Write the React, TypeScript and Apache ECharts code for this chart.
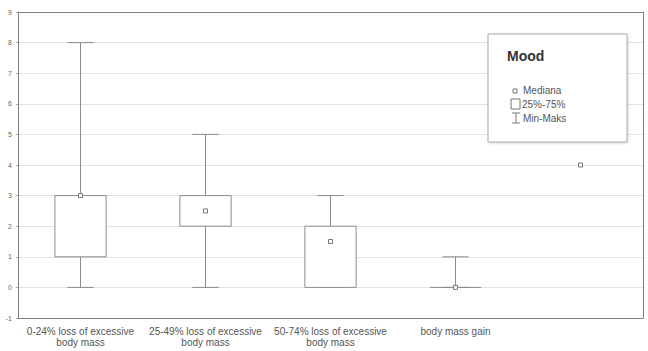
import React, { useEffect, useRef } from "react";
import * as echarts from "echarts";

const categories = [
  "0-24% loss of excessive\nbody mass",
  "25-49% loss of excessive\nbody mass",
  "50-74% loss of excessive\nbody mass",
  "body mass gain",
  "",
];
const mins: (number | null)[] = [0, 0, 0, 0, null];
const q1s: (number | null)[] = [1, 2, 0, 0, null];
const medians: number[] = [3, 2.5, 1.5, 0, 4];
const q3s: (number | null)[] = [3, 3, 2, 0, null];
const maxs: (number | null)[] = [8, 5, 3, 1, null];
const yTicks = [-1, 0, 1, 2, 3, 4, 5, 6, 7, 8, 9];

const LINE = "#8c8c8c";
const FONT = "Liberation Sans, Arial, sans-serif";

export default function App() {
  const ref = useRef<HTMLDivElement>(null);
  useEffect(() => {
    const chart = echarts.init(ref.current!, null, { renderer: "svg" });
    const data = categories.map((_, i) => [i, medians[i]]);
    chart.setOption({
      animation: false,
      backgroundColor: "#ffffff",
      grid: { left: 18, right: 5, top: 12, bottom: 33 },
      xAxis: [
        {
          type: "category",
          data: categories,
          boundaryGap: true,
          axisLine: { onZero: false, lineStyle: { color: "#808080", width: 1 } },
          axisTick: { alignWithLabel: true, length: 3, lineStyle: { color: "#aaa" } },
          axisLabel: {
            color: "#555",
            fontSize: 10,
            fontFamily: FONT,
            lineHeight: 11,
            margin: 8,
            interval: 0,
          },
          splitLine: { show: false },
        },
        {
          type: "category",
          data: categories,
          position: "top",
          axisLine: { onZero: false, lineStyle: { color: "#808080", width: 1 } },
          axisTick: { alignWithLabel: true, length: 3, lineStyle: { color: "#aaa" } },
          axisLabel: { show: false },
        },
      ],
      yAxis: [
        {
          type: "value",
          min: yTicks[0],
          max: yTicks[yTicks.length - 1],
          interval: 1,
          axisLine: { show: true, onZero: false, lineStyle: { color: "#808080", width: 1 } },
          axisTick: { show: true, length: 2, lineStyle: { color: "#aaa" } },
          axisLabel: { color: "#666", fontSize: 7, fontFamily: FONT, margin: 6 },
          splitLine: { show: true, lineStyle: { color: "#e2e2e2", width: 1 } },
        },
        {
          type: "value",
          min: yTicks[0],
          max: yTicks[yTicks.length - 1],
          interval: 1,
          position: "right",
          axisLine: { show: true, onZero: false, lineStyle: { color: "#808080", width: 1 } },
          axisTick: { show: false },
          axisLabel: { show: false },
          splitLine: { show: false },
        },
      ],
      series: [
        {
          type: "custom",
          xAxisIndex: 0,
          yAxisIndex: 0,
          data,
          clip: false,
          renderItem: (params: any, api: any) => {
            const i = params.dataIndex;
            const band = api.size([1, 0])[0];
            const bw = band * 0.41;
            const cw = band * 0.21;
            const cx = api.coord([i, medians[i]])[0];
            const children: any[] = [];
            const style = { stroke: LINE, lineWidth: 1, fill: "none" };
            if (mins[i] !== null && maxs[i] !== null && q1s[i] !== null && q3s[i] !== null) {
              const yMin = api.coord([i, mins[i]])[1];
              const yMax = api.coord([i, maxs[i]])[1];
              const yQ1 = api.coord([i, q1s[i]])[1];
              const yQ3 = api.coord([i, q3s[i]])[1];
              if (yMax < yQ3)
                children.push({ type: "line", shape: { x1: cx, y1: yMax, x2: cx, y2: yQ3 }, style });
              if (yMin > yQ1)
                children.push({ type: "line", shape: { x1: cx, y1: yQ1, x2: cx, y2: yMin }, style });
              children.push({ type: "line", shape: { x1: cx - cw / 2, y1: yMax, x2: cx + cw / 2, y2: yMax }, style });
              children.push({ type: "line", shape: { x1: cx - cw / 2, y1: yMin, x2: cx + cw / 2, y2: yMin }, style });
              if (Math.abs(yQ1 - yQ3) > 0.5) {
                children.push({
                  type: "rect",
                  shape: { x: cx - bw / 2, y: yQ3, width: bw, height: yQ1 - yQ3 },
                  style: { stroke: LINE, lineWidth: 1, fill: "#ffffff" },
                });
              } else {
                children.push({ type: "line", shape: { x1: cx - bw / 2, y1: yQ1, x2: cx + bw / 2, y2: yQ1 }, style });
              }
            }
            const ym = api.coord([i, medians[i]])[1];
            children.push({
              type: "rect",
              shape: { x: cx - 2, y: ym - 2, width: 4, height: 4 },
              style: { stroke: "#777", lineWidth: 1, fill: "#ffffff" },
            });
            return { type: "group", children };
          },
        },
      ],
      graphic: [
        {
          type: "rect",
          shape: { x: 488, y: 34, width: 139, height: 108 },
          style: { fill: "#ffffff", stroke: "#a8a8a8", lineWidth: 1, shadowBlur: 2, shadowColor: "rgba(0,0,0,0.15)", shadowOffsetX: 1, shadowOffsetY: 1 },
          z: 10,
        },
        {
          type: "text",
          x: 507,
          y: 49,
          style: { text: "Mood", fontSize: 14, fontWeight: "bold", fill: "#333", fontFamily: FONT },
          z: 11,
        },
        {
          type: "rect",
          shape: { x: 513, y: 89, width: 4, height: 4 },
          style: { fill: "#fff", stroke: "#777", lineWidth: 1 },
          z: 11,
        },
        {
          type: "text",
          x: 523,
          y: 85,
          style: { text: "Mediana", fontSize: 10, fill: "#555", fontFamily: FONT },
          z: 11,
        },
        {
          type: "rect",
          shape: { x: 511, y: 99, width: 9, height: 10 },
          style: { fill: "#fff", stroke: "#777", lineWidth: 1 },
          z: 11,
        },
        {
          type: "text",
          x: 522,
          y: 99,
          style: { text: "25%-75%", fontSize: 10, fill: "#555", fontFamily: FONT },
          z: 11,
        },
        {
          type: "line",
          shape: { x1: 516, y1: 113, x2: 516, y2: 123 },
          style: { stroke: "#777", lineWidth: 1 },
          z: 11,
        },
        {
          type: "line",
          shape: { x1: 512, y1: 113, x2: 520, y2: 113 },
          style: { stroke: "#777", lineWidth: 1 },
          z: 11,
        },
        {
          type: "line",
          shape: { x1: 512, y1: 123, x2: 520, y2: 123 },
          style: { stroke: "#777", lineWidth: 1 },
          z: 11,
        },
        {
          type: "text",
          x: 523,
          y: 113,
          style: { text: "Min-Maks", fontSize: 10, fill: "#555", fontFamily: FONT },
          z: 11,
        },
      ],
    });
    return () => chart.dispose();
  }, []);
  return <div ref={ref} style={{ width: 648, height: 351, position: "absolute", left: 0, top: 0 }} />;
}
